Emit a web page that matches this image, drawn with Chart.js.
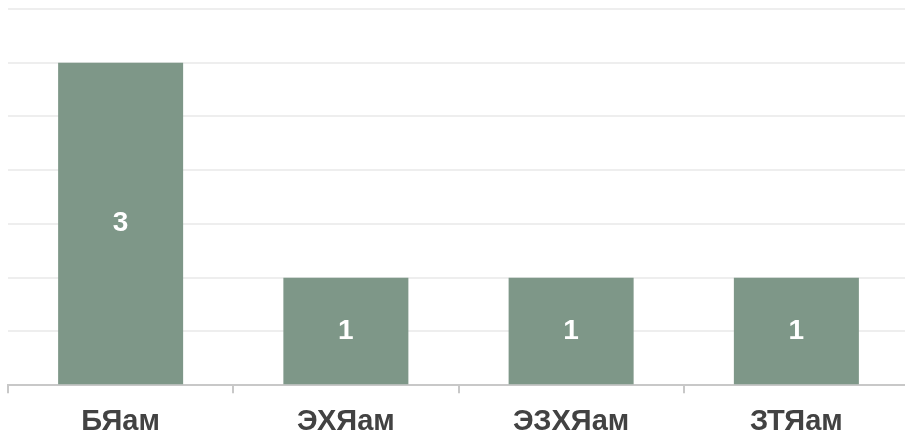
<!DOCTYPE html>
<html>
<head>
<meta charset="utf-8">
<script src="https://cdn.jsdelivr.net/npm/chart.js@4.4.1/dist/chart.umd.min.js"></script>
<style>
  html, body { margin: 0; padding: 0; background: #fff; overflow: hidden; }
  #wrap { position: relative; width: 912px; height: 450px; }
</style>
</head>
<body>
<div id="wrap"><canvas id="chart"></canvas></div>
<script>
// --- Datos ---
const categories = ['БЯам', 'ЭХЯам', 'ЭЗХЯам', 'ЗТЯам'];
const counts = [3, 1, 1, 1];
const yMax = 3.5;
const yStep = 0.5;

// Etiquetas blancas dentro de cada barra
const barLabels = {
    id: 'barLabels',
    afterDatasetsDraw(chart) {
        const ctx = chart.ctx;
        const meta = chart.getDatasetMeta(0);
        ctx.save();
        ctx.fillStyle = '#ffffff';
        ctx.font = 'bold 28px "Liberation Sans", Arial, sans-serif';
        ctx.textAlign = 'center';
        ctx.textBaseline = 'middle';
        meta.data.forEach((bar, i) => {
            ctx.fillText(String(counts[i]), bar.x, (bar.y + bar.base) / 2);
        });
        ctx.restore();
    }
};

new Chart(document.getElementById('chart'), {
    type: 'bar',
    data: {
        labels: categories,
        datasets: [{
            data: counts,
            backgroundColor: '#7e9788',
            barPercentage: 0.555,
            categoryPercentage: 1
        }]
    },
    options: {
        responsive: true,
        maintainAspectRatio: false,
        animation: false,
        layout: { padding: { left: 8, right: 3, top: 9, bottom: 0 } },
        plugins: { legend: { display: false }, tooltip: { enabled: false } },
        scales: {
            x: {
                offset: true,
                border: { color: '#c8c8c8', width: 2 },
                grid: { drawOnChartArea: false, color: '#c8c8c8', lineWidth: 2, tickLength: 8, offset: true },
                ticks: {
                    color: '#424242',
                    padding: 11,
                    font: { family: '"Liberation Sans", Arial, sans-serif', size: 29, weight: 'bold' }
                }
            },
            y: {
                min: 0,
                max: yMax,
                border: { display: false },
                grid: { color: '#eeeeee', lineWidth: 2, drawTicks: false },
                ticks: { display: false, stepSize: yStep }
            }
        }
    },
    plugins: [barLabels]
});
</script>
</body>
</html>
